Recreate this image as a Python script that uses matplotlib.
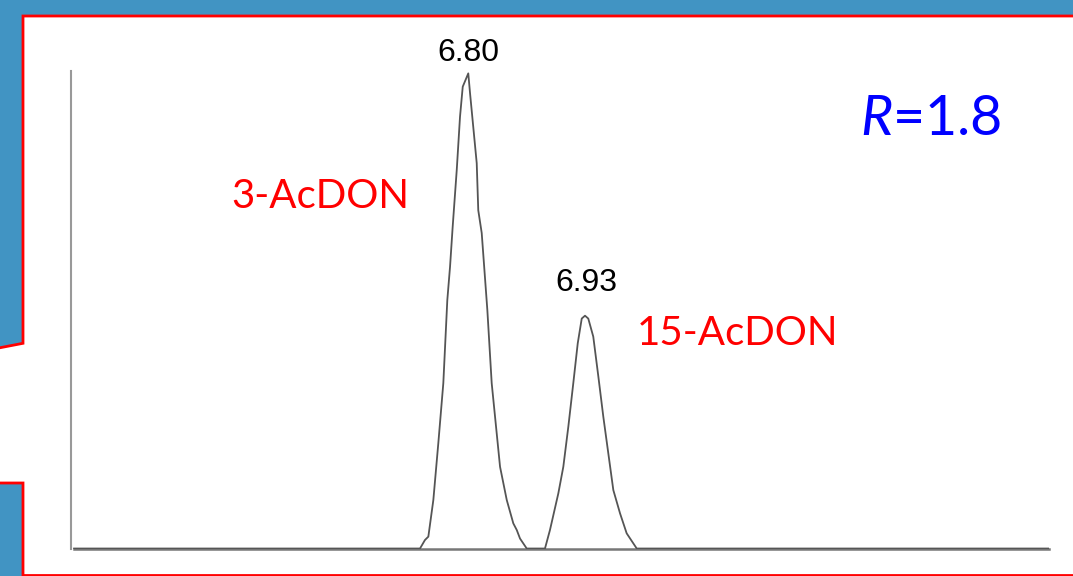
import matplotlib
matplotlib.use('Agg')
import matplotlib.pyplot as plt
from matplotlib.patches import Polygon

# chromatogram trace (retention time in min, relative intensity %)
time = [6.366, 6.7471, 6.7526, 6.7563, 6.7618, 6.7673, 6.7728, 6.7772, 6.7802,
        6.7831, 6.7876, 6.7912, 6.7942, 6.8003, 6.8022, 6.8096, 6.8113, 6.8151,
        6.8213, 6.8261, 6.8353, 6.8427, 6.8499, 6.8537, 6.8573, 6.8647,
        6.8848, 6.8903, 6.8995, 6.9050, 6.9105, 6.9160, 6.9209, 6.9253, 6.9289,
        6.9325, 6.9380, 6.9436, 6.9491, 6.9546, 6.9601, 6.9675, 6.9748, 6.9859,
        7.440]
intensity = [0, 0, 1.8, 2.5, 10.2, 22.2, 34.8, 52.3, 59.3,
             67.7, 79.7, 90.9, 97.2, 100, 95.9, 81.1, 71.2, 66.4,
             50.2, 34.8, 17.2, 10.2, 5.3, 3.9, 2.1, 0,
             0, 3.9, 11.6, 17.2, 25.6, 34.8, 43.2, 48.4, 49.0,
             48.4, 44.6, 36.2, 27.7, 20.0, 12.3, 7.4, 3.2, 0,
             0]

peak_times = [6.80, 6.93]
peak_heights = [100, 49.0]
peak_labels = ['6.80', '6.93']
peak_offsets = [9, 18]   # points above apex

compounds = ['3-AcDON', '15-AcDON']
resolution = 1.8

W, H = 1073, 576
fig = plt.figure(figsize=(W / 100, H / 100), dpi=100)
fig.patch.set_facecolor('#4194c3')

def fpt(x, y):
    # pixel (top-left origin) -> figure fraction
    return (x / W, 1 - y / H)

panel = [fpt(23, 16), fpt(1085, 16), fpt(1085, 575.5), fpt(23, 575.5),
         fpt(23, 483), fpt(-5, 483), fpt(-5, 348.7), fpt(23, 343.3)]
fig.patches.append(Polygon(panel, closed=True, transform=fig.transFigure,
                           facecolor='white', edgecolor='#ff0000', lw=2.0, zorder=-1))

ax = fig.add_axes([71 / W, 1 - 549 / H, (1049 - 71) / W, (549 - 71) / H])
ax.patch.set_alpha(0)
ax.plot(time, intensity, color='#555555', lw=1.3, zorder=3)
ax.set_xlim(6.3626, 7.4401)
ax.set_ylim(-0.1, 100.5)
ax.set_xticks([])
ax.set_yticks([])
for s in ['top', 'right']:
    ax.spines[s].set_visible(False)
ax.spines['left'].set_color('#999999')
ax.spines['left'].set_linewidth(1.5)
ax.spines['bottom'].set_color('#777777')
ax.spines['bottom'].set_linewidth(1.8)
ax.spines['bottom'].set_bounds(6.366, 7.44)

for t, h, lab, off in zip(peak_times, peak_heights, peak_labels, peak_offsets):
    ax.annotate(lab, (t, h), xytext=(0, off), textcoords='offset points',
                ha='center', va='baseline', fontsize=23,
                family='Liberation Sans', color='black')

fig.text(*fpt(231, 208), compounds[0], fontsize=29, family='Lato',
         color='#ff0000', va='baseline', ha='left')
fig.text(*fpt(637, 345), compounds[1], fontsize=29, family='Lato',
         color='#ff0000', va='baseline', ha='left')

plt.rcParams['mathtext.fontset'] = 'custom'
plt.rcParams['mathtext.it'] = 'Lato:italic'
plt.rcParams['mathtext.rm'] = 'Lato'
fig.text(*fpt(860, 135), '$R$=%.1f' % resolution, fontsize=40, family='Lato',
         color='#0000ff', va='baseline', ha='left')

fig.savefig('out.png', dpi=100, facecolor=fig.get_facecolor())
